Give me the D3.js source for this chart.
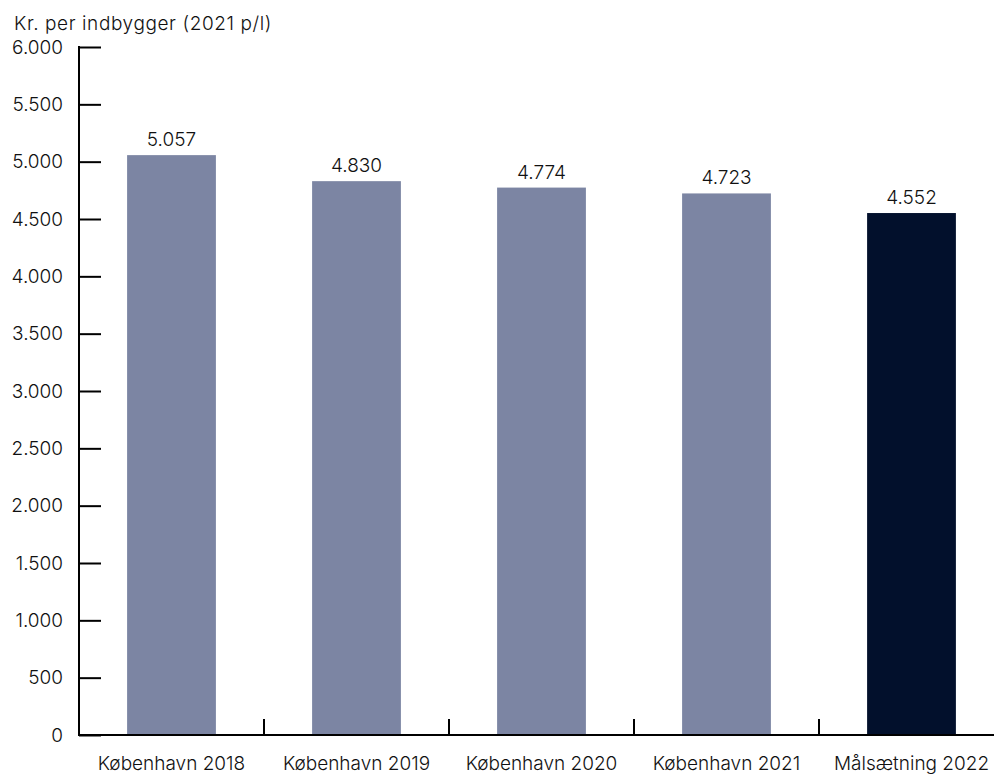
<!DOCTYPE html>
<html><head><meta charset="utf-8">
<script src="https://cdn.jsdelivr.net/npm/d3@7"></script>
<style>body{margin:0;background:#fff}svg{display:block}text{font-family:Inter,"Open Sans",sans-serif;fill:#111;font-weight:300}</style>
</head><body><svg id="c" width="994" height="774"></svg>
<script>
const categories = ["København 2018","København 2019","København 2020","København 2021","Målsætning 2022"];
const values = [5057, 4830, 4774, 4723, 4552];
const yTicks = [0,500,1000,1500,2000,2500,3000,3500,4000,4500,5000,5500,6000];
const yTitle = "Kr. per indbygger (2021 p/l)";
const colors = ["#7c85a3","#7c85a3","#7c85a3","#7c85a3","#02102c"];

const FS = 19;
const svg = d3.select("#c");
const x0 = 79, x1 = 1004, yTop = 47, yBot = 735;
const x = d3.scaleBand().domain(categories).range([x0, x1]).paddingInner(0.52).paddingOuter(0.26);
const y = d3.scaleLinear().domain([0, 6000]).range([yBot, yTop]);
const fmt = v => d3.format(",")(v).replace(/,/g, ".");

svg.selectAll("rect.bar").data(values).join("rect").attr("class","bar")
  .attr("x", (d,i)=>x(categories[i])).attr("width", x.bandwidth())
  .attr("y", d=>y(d)).attr("height", d=>y(0)-y(d)).attr("fill",(d,i)=>colors[i]);

svg.selectAll("text.val").data(values).join("text").attr("class","val")
  .attr("x",(d,i)=>x(categories[i])+x.bandwidth()/2).attr("y",d=>y(d)-9)
  .attr("text-anchor","middle").attr("font-size",FS).text(fmt);

// Y axis
const yAxis = d3.axisLeft(y).tickValues(yTicks).tickSize(-22).tickPadding(16).tickFormat(fmt);
const gy = svg.append("g").attr("transform",`translate(${x0},0)`).call(yAxis);
gy.select(".domain").remove();
gy.selectAll(".tick line").attr("stroke","#000").attr("stroke-width",2);
gy.selectAll(".tick text").attr("font-size",FS).attr("fill","#111").style("font-family","Inter, 'Open Sans', sans-serif");
svg.append("line").attr("x1",x0).attr("x2",x0).attr("y1",y(6000)-1).attr("y2",yBot+1).attr("stroke","#000").attr("stroke-width",2);

// X axis
const gx = svg.append("g").attr("transform",`translate(0,${yBot})`).call(d3.axisBottom(x).tickSize(0).tickPadding(22));
gx.select(".domain").remove();
gx.selectAll(".tick text").attr("font-size",FS).attr("fill","#111").style("font-family","Inter, 'Open Sans', sans-serif");
svg.append("line").attr("x1",x0-1).attr("x2",994).attr("y1",yBot).attr("y2",yBot).attr("stroke","#000").attr("stroke-width",2);
// separators between categories
svg.selectAll("line.sep").data(categories.slice(1)).join("line").attr("class","sep")
  .attr("x1",d=>x(d)-x.step()*x.paddingInner()/2).attr("x2",d=>x(d)-x.step()*x.paddingInner()/2)
  .attr("y1",yBot).attr("y2",yBot-16).attr("stroke","#000").attr("stroke-width",2);

svg.append("text").attr("x",14).attr("y",30).attr("font-size",FS).attr("letter-spacing",0.6).text(yTitle);
</script></body></html>
